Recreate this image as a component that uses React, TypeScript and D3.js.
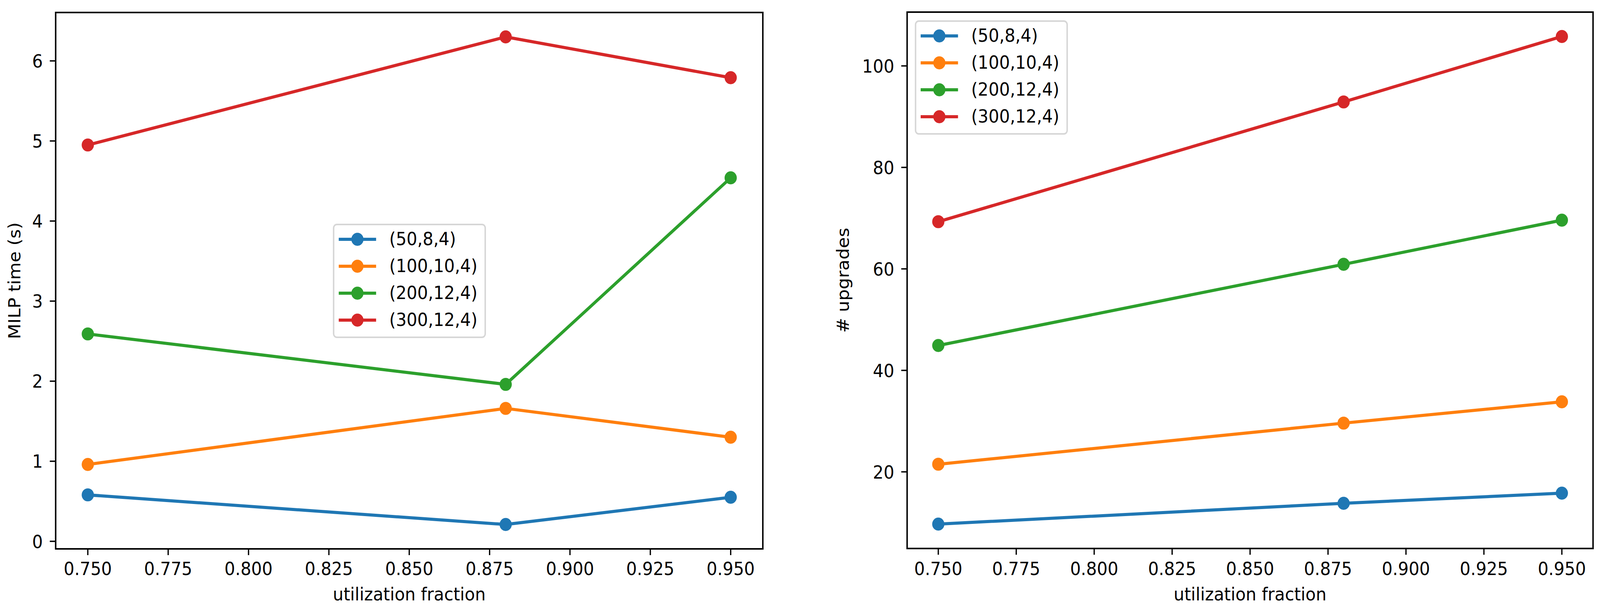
import React, { useLayoutEffect, useState } from 'react';
import * as d3 from 'd3';

const X_VALUES = [0.75, 0.88, 0.95];
const SERIES_LABELS = ['(50,8,4)', '(100,10,4)', '(200,12,4)', '(300,12,4)'];
const SERIES_COLORS = ['#1f77b4', '#ff7f0e', '#2ca02c', '#d62728'];

const MILP_TIME_50 = [0.58, 0.21, 0.55];
const MILP_TIME_100 = [0.96, 1.66, 1.3];
const MILP_TIME_200 = [2.59, 1.96, 4.54];
const MILP_TIME_300 = [4.95, 6.3, 5.79];

const UPGRADES_50 = [9.7, 13.8, 15.8];
const UPGRADES_100 = [21.5, 29.6, 33.8];
const UPGRADES_200 = [44.9, 60.9, 69.6];
const UPGRADES_300 = [69.3, 92.9, 105.8];

const X_TICKS = [0.75, 0.775, 0.8, 0.825, 0.85, 0.875, 0.9, 0.925, 0.95];
const LEFT_Y_TICKS = [0, 1, 2, 3, 4, 5, 6];
const RIGHT_Y_TICKS = [20, 40, 60, 80, 100];

const X_LABEL = 'utilization fraction';
const LEFT_Y_LABEL = 'MILP time (s)';
const RIGHT_Y_LABEL = '# upgrades';

const W = 4369;
const H = 1560;
const FONT = 'DejaVu Sans, sans-serif';
const FS = 46;

type PanelProps = {
  left: number;
  right: number;
  top: number;
  bottom: number;
  series: number[][];
  yTicks: number[];
  yLabel: string;
  yLabelX: number;
  legendX: number;
  legendY: number;
};

function padDomain(vals: number[]): [number, number] {
  const mn = d3.min(vals) as number;
  const mx = d3.max(vals) as number;
  const p = (mx - mn) * 0.05;
  return [mn - p, mx + p];
}

function Panel(props: PanelProps) {
  const { left, right, top, bottom, series, yTicks, yLabel, yLabelX, legendX, legendY } = props;
  const xs = d3.scaleLinear().domain([0.74, 0.96]).range([left, right]);
  const ys = d3.scaleLinear().domain(padDomain(series.flat())).range([bottom, top]);
  const line = d3
    .line<number>()
    .x((_, i) => xs(X_VALUES[i]))
    .y((d) => ys(d));
  const tickLen = 16;
  const lw = 8;
  const r = 16.7;
  const legW = 414;
  const legH = 289;
  const rowGap = 69;
  return (
    <g>
      {series.map((vals, si) => (
        <g key={si}>
          <path d={line(vals) || ''} fill="none" stroke={SERIES_COLORS[si]} strokeWidth={lw} strokeLinejoin="round" strokeLinecap="butt" />
          {vals.map((v, i) => (
            <circle key={i} cx={xs(X_VALUES[i])} cy={ys(v)} r={r} fill={SERIES_COLORS[si]} />
          ))}
        </g>
      ))}
      <rect x={left} y={top} width={right - left} height={bottom - top} fill="none" stroke="#000" strokeWidth={4} />
      {X_TICKS.map((t) => (
        <g key={'x' + t}>
          <line x1={xs(t)} x2={xs(t)} y1={bottom} y2={bottom + tickLen} stroke="#000" strokeWidth={3.5} />
          <text x={xs(t)} y={1473} textAnchor="middle" fontFamily={FONT} fontSize={FS} fill="#000">
            {d3.format('.3f')(t)}
          </text>
        </g>
      ))}
      {yTicks.map((t) => (
        <g key={'y' + t}>
          <line x1={left - tickLen} x2={left} y1={ys(t)} y2={ys(t)} stroke="#000" strokeWidth={3.5} />
          <text x={left - 35} y={ys(t) + 17} textAnchor="end" fontFamily={FONT} fontSize={FS} fill="#000">
            {String(t)}
          </text>
        </g>
      ))}
      <text x={(left + right) / 2} y={1538} textAnchor="middle" fontFamily={FONT} fontSize={FS} fill="#000">
        {X_LABEL}
      </text>
      <text
        transform={`translate(${yLabelX},${(top + bottom) / 2}) rotate(-90)`}
        textAnchor="middle"
        fontFamily={FONT}
        fontSize={FS}
        fill="#000"
      >
        {yLabel}
      </text>
      <g>
        <rect x={legendX} y={legendY} width={legW} height={legH} rx={9} ry={9} fill="#fff" fillOpacity={0.8} stroke="#d6d6d6" strokeWidth={4} />
        {SERIES_LABELS.map((lab, si) => {
          const cy = legendY + 38 + si * rowGap;
          return (
            <g key={lab}>
              <line x1={legendX + 14} x2={legendX + 116} y1={cy} y2={cy} stroke={SERIES_COLORS[si]} strokeWidth={lw} />
              <circle cx={legendX + 65} cy={cy} r={r} fill={SERIES_COLORS[si]} />
              <text x={legendX + 152} y={cy + 15} fontFamily={FONT} fontSize={FS} fill="#000">
                {lab}
              </text>
            </g>
          );
        })}
      </g>
    </g>
  );
}

export default function App() {
  const [vw, setVw] = useState(W);
  useLayoutEffect(() => {
    document.body.style.margin = '0';
    document.body.style.overflow = 'hidden';
    const w = document.documentElement.clientWidth || window.innerWidth || W;
    setVw(Math.min(W, w));
  }, []);
  const leftSeries = [MILP_TIME_50, MILP_TIME_100, MILP_TIME_200, MILP_TIME_300];
  const rightSeries = [UPGRADES_50, UPGRADES_100, UPGRADES_200, UPGRADES_300];
  return (
    <svg
      width={vw}
      height={H}
      viewBox={`0 0 ${W} ${H}`}
      preserveAspectRatio="none"
      style={{ position: 'absolute', left: 0, top: 0, background: '#fff' }}
    >
      <rect x={0} y={0} width={W} height={H} fill="#fff" />
      <Panel
        left={152}
        right={2083}
        top={32}
        bottom={1406}
        series={leftSeries}
        yTicks={LEFT_Y_TICKS}
        yLabel={LEFT_Y_LABEL}
        yLabelX={55}
        legendX={911}
        legendY={575}
      />
      <Panel
        left={2477}
        right={4350}
        top={31}
        bottom={1405}
        series={rightSeries}
        yTicks={RIGHT_Y_TICKS}
        yLabel={RIGHT_Y_LABEL}
        yLabelX={2318}
        legendX={2500}
        legendY={54}
      />
    </svg>
  );
}
